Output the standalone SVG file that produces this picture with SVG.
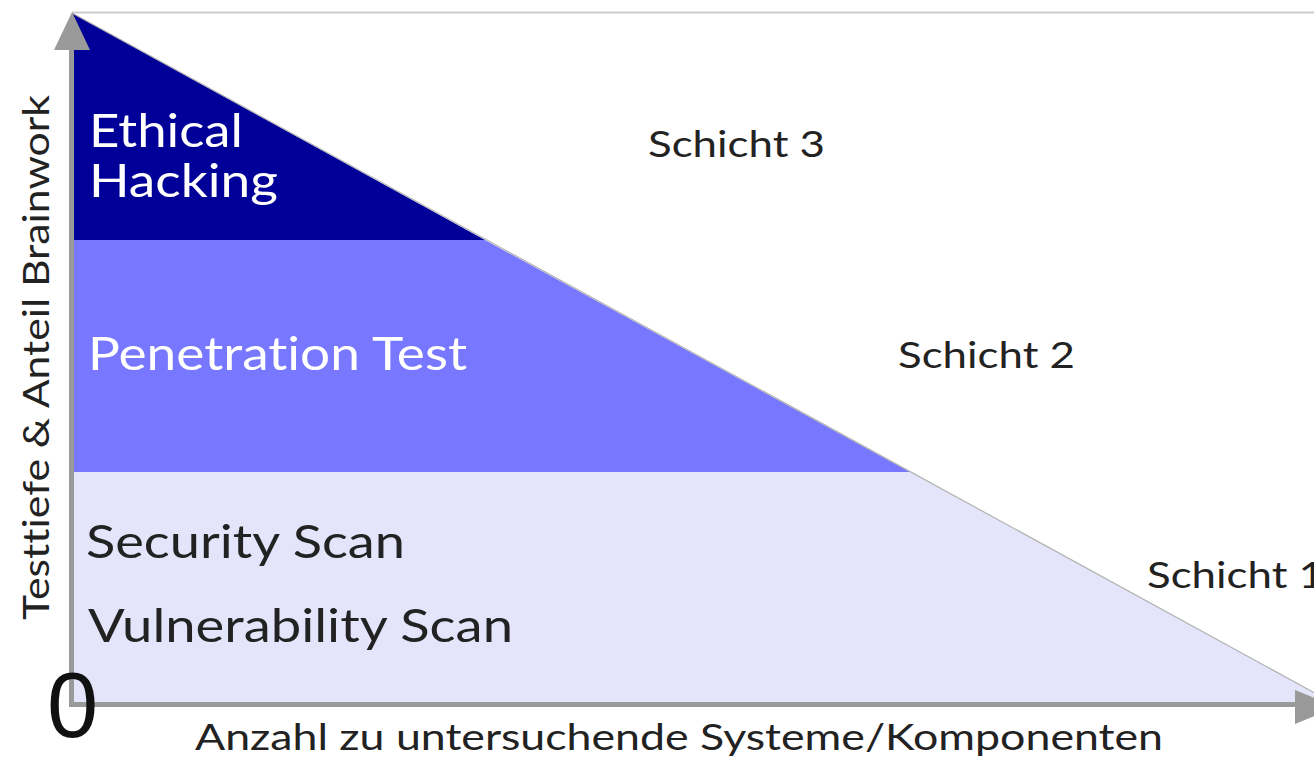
<svg xmlns="http://www.w3.org/2000/svg" width="1314" height="758" viewBox="0 0 1314 758">
  <style>
    .lbl { font-family: Lato, "Liberation Sans", sans-serif; font-variant-ligatures: none; }
    .light { fill: #ffffff; }
    .dark { fill: #222222; }
    .axis { stroke: #9a9a9a; stroke-width: 5; fill: none; }
    .head { fill: #9a9a9a; }
  </style>
  <rect width="1314" height="758" fill="#ffffff"/>

  <!-- thin frame line along the top -->
  <line x1="72" y1="12.5" x2="1314" y2="12.5" stroke="#cccccc" stroke-width="2"/>

  <!-- layer 3: ethical hacking -->
  <g id="layer-ethical-hacking">
    <polygon points="72,13 485,240 72,240" fill="#000099"/>
    <text class="lbl light" x="89" y="147" font-size="46" textLength="154" lengthAdjust="spacingAndGlyphs">Ethical</text>
    <text class="lbl light" x="89" y="197" font-size="46" textLength="189" lengthAdjust="spacingAndGlyphs">Hacking</text>
  </g>

  <!-- layer 2: penetration test -->
  <g id="layer-penetration-test">
    <polygon points="72,240 485,240 910,472 72,472" fill="#7777ff"/>
    <text class="lbl light" x="88" y="370" font-size="46" textLength="379" lengthAdjust="spacingAndGlyphs">Penetration Test</text>
  </g>

  <!-- layer 1: security / vulnerability scan -->
  <g id="layer-scan">
    <polygon points="72,472 910,472 1333,703 72,703" fill="#e4e4fb"/>
    <text class="lbl dark" x="86" y="558" font-size="47" textLength="319" lengthAdjust="spacingAndGlyphs">Security Scan</text>
    <text class="lbl dark" x="88" y="642" font-size="47" textLength="425" lengthAdjust="spacingAndGlyphs">Vulnerability Scan</text>
  </g>

  <!-- layer names on the right -->
  <g id="schicht-3">
    <text class="lbl dark" x="648" y="157" font-size="37" textLength="177" lengthAdjust="spacingAndGlyphs">Schicht 3</text>
  </g>
  <g id="schicht-2">
    <text class="lbl dark" x="898" y="368" font-size="37" textLength="177" lengthAdjust="spacingAndGlyphs">Schicht 2</text>
  </g>
  <g id="schicht-1">
    <text class="lbl dark" x="1147" y="588" font-size="37" textLength="177" lengthAdjust="spacingAndGlyphs">Schicht 1</text>
  </g>

  <!-- axes and the sloped edge -->
  <g id="connectors">
    <line x1="72" y1="13" x2="1333" y2="703" stroke="#b0b0b0" stroke-width="1.2"/>
    <line class="axis" x1="71.5" y1="48" x2="71.5" y2="706"/>
    <polygon class="head" points="72,12 54,50 90,50"/>
    <line class="axis" x1="69" y1="704.5" x2="1298" y2="704.5"/>
    <polygon class="head" points="1295,690 1337,707 1295,724"/>
  </g>

  <!-- axis titles -->
  <g id="axis-labels">
    <text class="lbl dark" x="0" y="0" font-size="36" textLength="525" lengthAdjust="spacingAndGlyphs" transform="translate(49,620) rotate(-90)">Testtiefe &amp; Anteil Brainwork</text>
    <text class="lbl dark" x="195" y="750" font-size="36" textLength="968" lengthAdjust="spacingAndGlyphs">Anzahl zu untersuchende Systeme/Komponenten</text>
    <text x="72.5" y="737" font-family="'Liberation Sans', sans-serif" font-size="92" text-anchor="middle" fill="#111111">0</text>
  </g>
</svg>
